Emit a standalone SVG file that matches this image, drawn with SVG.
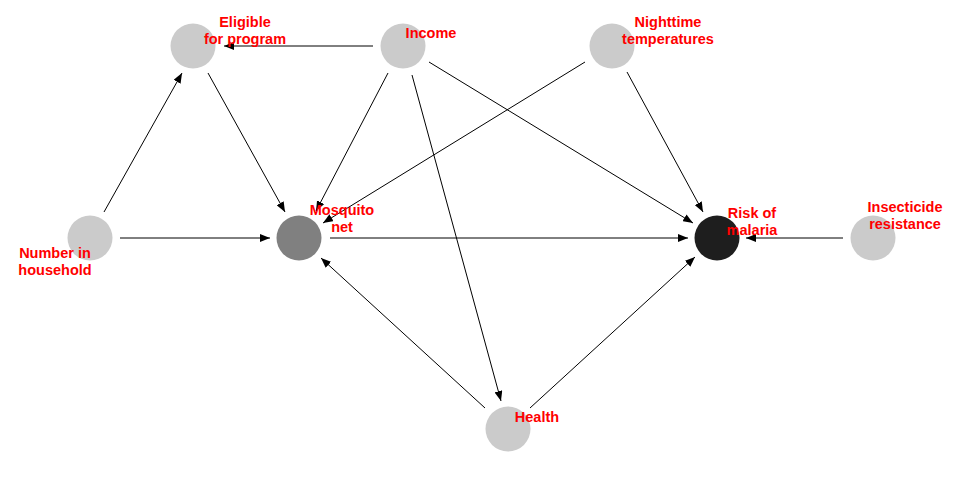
<svg xmlns="http://www.w3.org/2000/svg" width="960" height="480" viewBox="0 0 960 480">
<style>
.lbl{font-family:"Liberation Sans",Arial,sans-serif;font-weight:bold;font-size:14.5px;fill:#ff0000;text-anchor:middle}
.e{stroke:#000;stroke-width:1;fill:none;marker-end:url(#ah)}
.light{fill:#cbcbcb}
</style>
<defs>
<marker id="ah" viewBox="0 0 10 8" refX="10" refY="4" markerWidth="10" markerHeight="8" markerUnits="userSpaceOnUse" orient="auto">
<path d="M0,0 L10,4 L0,8 z" fill="#000"/>
</marker>
</defs>
<rect width="960" height="480" fill="#fff"/>
<g id="connectors">
<line class="e" x1="373" y1="46" x2="224" y2="46"/>
<line class="e" x1="104" y1="212" x2="182" y2="73"/>
<line class="e" x1="208" y1="73" x2="285" y2="212"/>
<line class="e" x1="120" y1="238" x2="270" y2="238"/>
<line class="e" x1="388" y1="73" x2="316" y2="211"/>
<line class="e" x1="412" y1="75" x2="501" y2="401"/>
<line class="e" x1="429" y1="62" x2="693" y2="223"/>
<line class="e" x1="585" y1="62" x2="323" y2="223"/>
<line class="e" x1="627" y1="72" x2="703" y2="212"/>
<line class="e" x1="330" y1="238" x2="688" y2="238"/>
<line class="e" x1="843" y1="238" x2="746" y2="238"/>
<line class="e" x1="485" y1="408" x2="321" y2="258"/>
<line class="e" x1="530" y1="408" x2="695" y2="257"/>
</g>
<g id="eligible"><circle class="light" cx="193" cy="46" r="22.5"/><text class="lbl" x="245" y="27">Eligible</text><text class="lbl" x="245" y="44">for program</text></g>
<g id="income"><circle class="light" cx="403" cy="46" r="22.5"/><text class="lbl" x="431" y="38">Income</text></g>
<g id="nighttime"><circle class="light" cx="612" cy="46" r="22.5"/><text class="lbl" x="668" y="27">Nighttime</text><text class="lbl" x="668" y="44">temperatures</text></g>
<g id="number"><circle class="light" cx="90" cy="238" r="22.5"/><text class="lbl" x="55" y="258">Number in</text><text class="lbl" x="55" y="275">household</text></g>
<g id="mosquito"><circle fill="#808080" cx="299" cy="238" r="22.5"/><text class="lbl" x="342" y="215">Mosquito</text><text class="lbl" x="342" y="232">net</text></g>
<g id="risk"><circle fill="#1e1e1e" cx="717" cy="238" r="22.5"/><text class="lbl" x="752" y="218">Risk of</text><text class="lbl" x="752" y="235">malaria</text></g>
<g id="insecticide"><circle class="light" cx="873" cy="238" r="22.5"/><text class="lbl" x="905" y="212">Insecticide</text><text class="lbl" x="905" y="229">resistance</text></g>
<g id="health"><circle class="light" cx="508" cy="429" r="22.5"/><text class="lbl" x="537" y="422">Health</text></g>
</svg>
